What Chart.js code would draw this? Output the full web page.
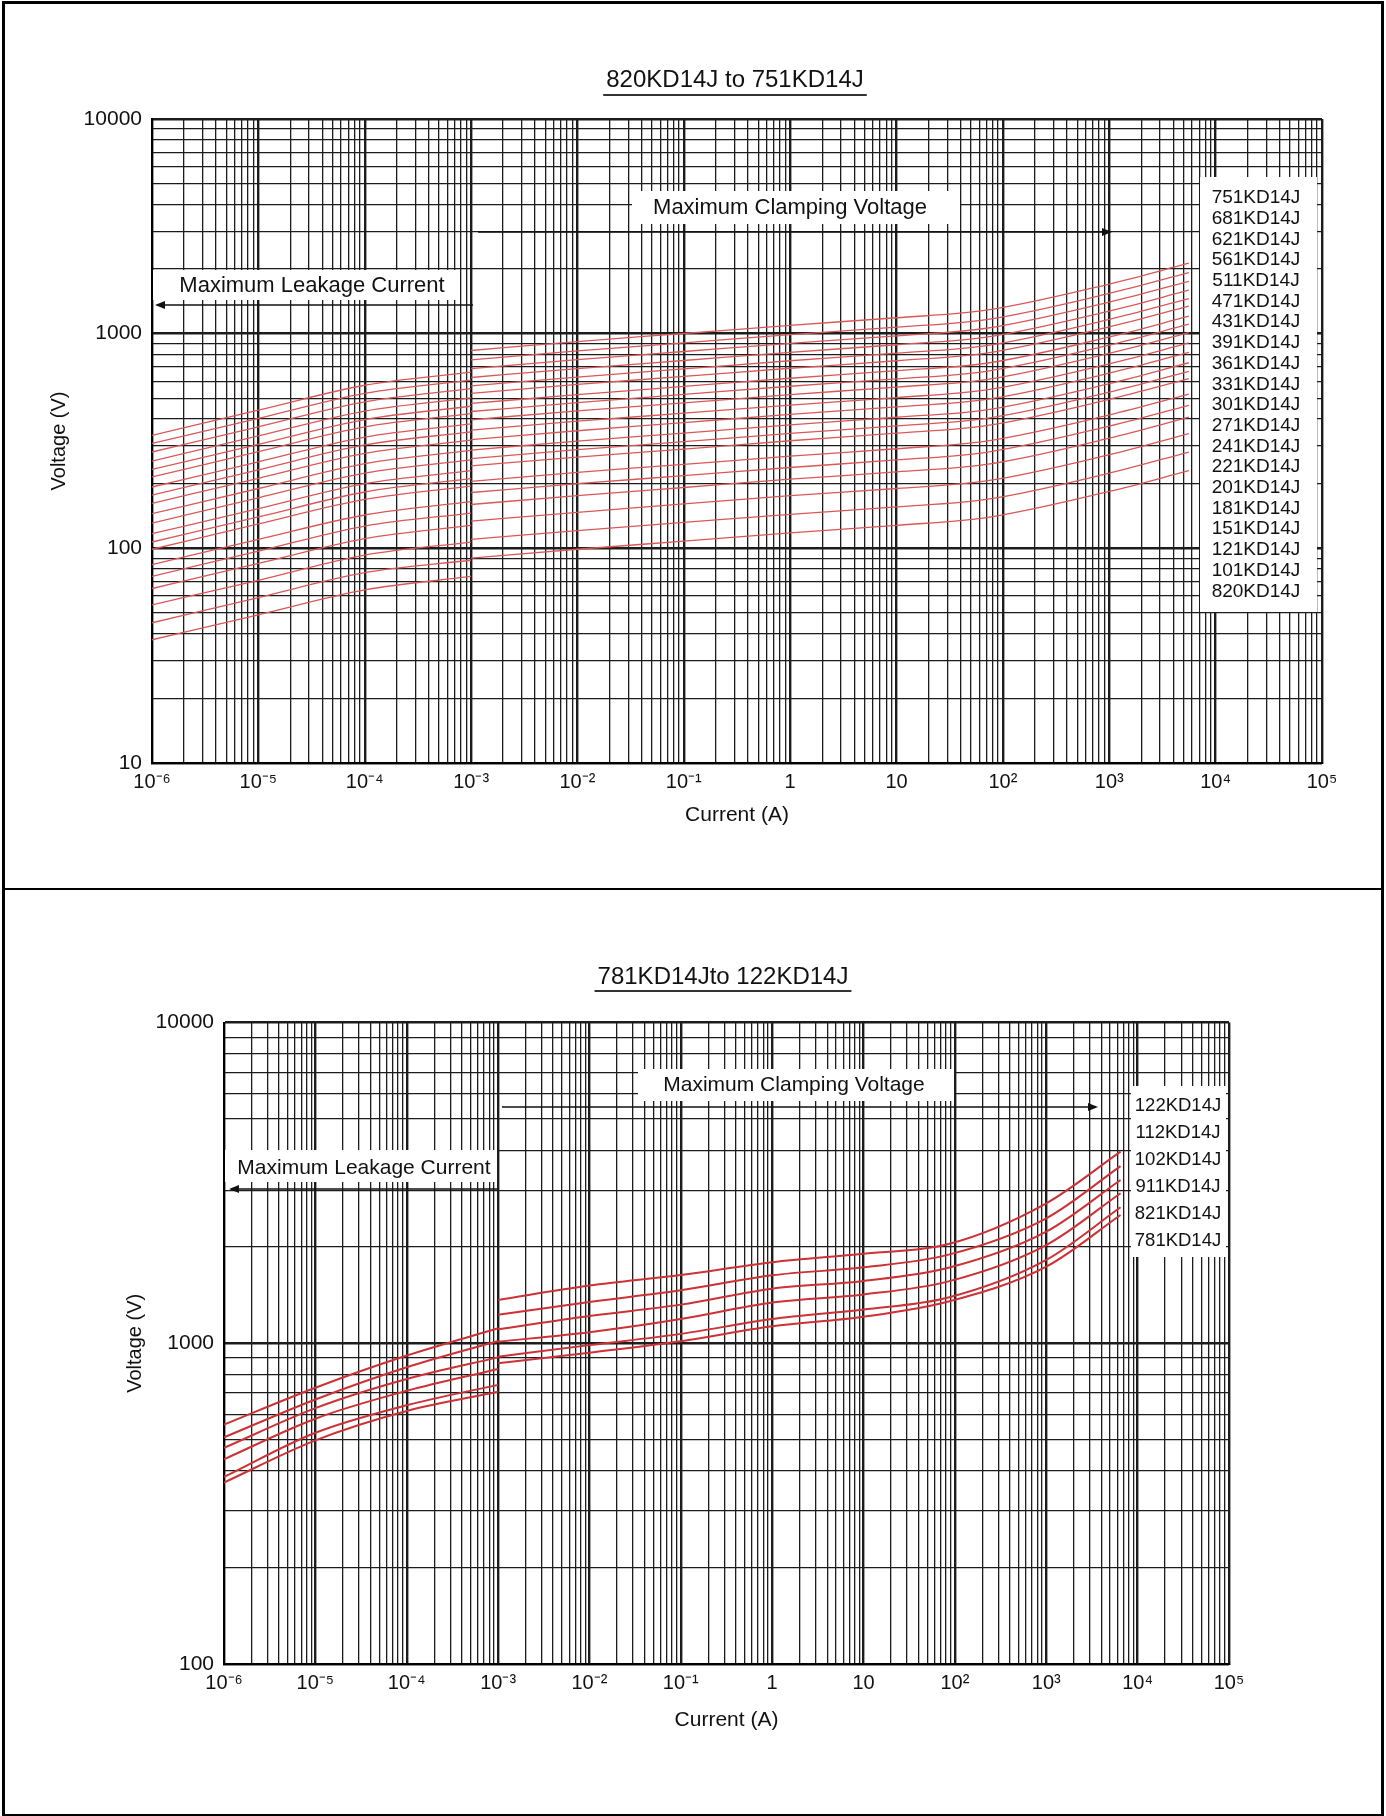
<!DOCTYPE html>
<html>
<head>
<meta charset="utf-8">
<script src="https://cdn.jsdelivr.net/npm/chart.js@4.4.1/dist/chart.umd.min.js"></script>
<style>
  html, body { margin: 0; padding: 0; background: #fff; }
  #page { position: relative; width: 1386px; height: 1816px; overflow: hidden; }
  canvas { position: absolute; left: 0; }
  #c1 { top: 0; }
  #c2 { top: 889px; }
  .frame { position: absolute; left: 2px; top: 1px; width: 1376px; height: 1810px; border: 3px solid #000; pointer-events: none; }
  .divider { position: absolute; left: 2px; top: 888px; width: 1382px; height: 2px; background: #000; }
</style>
</head>
<body>
<div id="page">
  <canvas id="c1" width="1386" height="889"></canvas>
  <canvas id="c2" width="1386" height="927"></canvas>
  <div class="frame"></div>
  <div class="divider"></div>
</div>
<script>
'use strict'
// ---------- top chart: 820KD14J to 751KD14J ----------
const modelsA = ['820KD14J', '101KD14J', '121KD14J', '151KD14J', '181KD14J', '201KD14J', '221KD14J',
    '241KD14J', '271KD14J', '301KD14J', '331KD14J', '361KD14J', '391KD14J', '431KD14J', '471KD14J',
    '511KD14J', '561KD14J', '621KD14J', '681KD14J', '751KD14J'];
const leakCurrentsA = [1e-6, 1e-5, 1e-4, 1e-3];
const clampCurrentsA = [1e-3, 1e-2, 1e-1, 1, 10, 70, 1000, 5600];
const leakA = [
    [37.5, 49, 64, 74], [45, 59, 77, 88], [54.5, 71, 93, 107], [65, 85, 111, 128],
    [74, 97, 127, 146], [84, 110, 143, 165], [99, 130, 169, 195], [107, 140, 183, 211],
    [117, 153, 200, 230], [131, 172, 224, 258], [145, 190, 248, 286], [162, 212, 277, 319],
    [177, 232, 303, 349], [193, 253, 330, 380], [215, 282, 368, 424], [233, 305, 398, 459],
    [255, 334, 436, 502], [281, 368, 481, 554], [308, 403, 527, 607], [336, 440, 575, 662]
];
const clampA = [
    [90, 99, 108, 118, 128, 139, 184, 230],
    [110, 121, 132, 144, 156, 169, 224, 281],
    [134, 147, 161, 176, 190, 206, 273, 342],
    [160, 176, 192, 210, 227, 246, 326, 408],
    [182, 200, 218, 238, 258, 280, 371, 464],
    [205, 226, 246, 269, 291, 316, 418, 523],
    [242, 266, 290, 317, 344, 373, 494, 617],
    [262, 288, 314, 343, 372, 403, 534, 668],
    [287, 316, 344, 376, 408, 442, 585, 732],
    [321, 353, 385, 421, 456, 494, 655, 819],
    [355, 391, 426, 465, 504, 547, 724, 905],
    [397, 437, 476, 520, 564, 611, 810, 1012],
    [434, 477, 521, 569, 616, 668, 885, 1107],
    [473, 520, 568, 620, 672, 728, 965, 1206],
    [527, 580, 632, 690, 748, 812, 1075, 1344],
    [571, 628, 685, 748, 811, 879, 1165, 1456],
    [625, 688, 750, 819, 888, 963, 1275, 1594],
    [688, 757, 826, 901, 977, 1060, 1404, 1754],
    [755, 831, 906, 989, 1072, 1163, 1540, 1925],
    [835, 919, 1002, 1094, 1186, 1286, 1703, 2129]
];

// ---------- bottom chart: 781KD14J to 122KD14J ----------
const modelsB = ['781KD14J', '821KD14J', '911KD14J', '102KD14J', '112KD14J', '122KD14J'];
const leakCurrentsB = [1e-6, 1e-5, 1e-4, 1e-3];
const clampCurrentsB = [1e-3, 1e-2, 1e-1, 1, 10, 85, 1000, 6500];
const leakB = [
    [368, 498, 615, 706], [383, 526, 641, 742], [435, 582, 711, 832],
    [472, 628, 774, 904], [509, 668, 842, 1017], [558, 727, 916, 1114]
];
const clampB = [
    [866, 935, 1015, 1130, 1210, 1350, 1734, 2513],
    [908, 987, 1070, 1190, 1275, 1390, 1820, 2655],
    [1012, 1083, 1190, 1340, 1420, 1560, 2025, 2937],
    [1106, 1217, 1320, 1480, 1565, 1720, 2229, 3230],
    [1228, 1346, 1464, 1630, 1725, 1890, 2454, 3570],
    [1365, 1514, 1633, 1790, 1903, 2040, 2733, 3960]
];

// tick labels
const xTickLabels = ['10⁻⁶', '10⁻⁵', '10⁻⁴', '10⁻³', '10⁻²', '10⁻¹', '1', '10', '10²', '10³', '10⁴', '10⁵'];
const yTickLabelsA = ['10', '100', '1000', '10000'];
const yTickLabelsB = ['100', '1000', '10000'];

const FONT = '"Liberation Sans", Arial, sans-serif';

function isDecade(v) {
    let l = Math.log10(v);
    return Math.abs(l - Math.round(l)) < 1e-6;
}
// all 1..9 x 10^n grid values of a log axis
function logGrid(minExp, maxExp) {
    let vals = [];
    for (let e = minExp; e < maxExp; e++) {
        for (let m = 1; m < 10; m++) vals.push(m * Math.pow(10, e));
    }
    vals.push(Math.pow(10, maxExp));
    return vals;
}

function curve(leakI, leakV, clampI, clampV) {
    let pts = leakI.map((x, i) => ({x: x, y: leakV[i]}));
    pts.push({x: clampI[0], y: null}); // break between leakage and clamping part
    clampI.forEach((x, i) => pts.push({x: x, y: clampV[i]}));
    return pts;
}

function makeDecor(cfg) {
    return {
        id: 'decor',
        beforeDatasetsDraw: function (chart) {
            let ctx = chart.ctx;
            ctx.save();
            ctx.fillStyle = '#111';
            ctx.textAlign = 'center';
            ctx.textBaseline = 'middle';
            // title with underline
            ctx.font = cfg.titleSize + 'px ' + FONT;
            ctx.fillText(cfg.title, cfg.titleX, cfg.titleY);
            let tw = ctx.measureText(cfg.title).width;
            ctx.fillStyle = '#333';
            ctx.fillRect(cfg.titleX - tw / 2 - 3, cfg.underlineY, tw + 6, 2);
            // annotation boxes + arrows
            cfg.notes.forEach(function (n) {
                ctx.fillStyle = '#fff';
                ctx.fillRect(n.box[0], n.box[1], n.box[2], n.box[3]);
                ctx.fillStyle = '#111';
                ctx.font = n.size + 'px ' + FONT;
                ctx.fillText(n.text, n.tx, n.ty);
                ctx.strokeStyle = '#111';
                ctx.lineWidth = 1.6;
                ctx.beginPath();
                ctx.moveTo(n.x1, n.ay);
                ctx.lineTo(n.x2, n.ay);
                ctx.stroke();
                let dir = n.x2 > n.x1 ? 1 : -1;
                ctx.beginPath();
                ctx.moveTo(n.x2 + dir * 2, n.ay);
                ctx.lineTo(n.x2 - dir * 8, n.ay - 4);
                ctx.lineTo(n.x2 - dir * 8, n.ay + 4);
                ctx.closePath();
                ctx.fill();
            });
            // legend box with model names
            let lb = cfg.legend;
            ctx.fillStyle = '#fff';
            ctx.fillRect(lb.box[0], lb.box[1], lb.box[2], lb.box[3]);
            ctx.fillStyle = '#111';
            ctx.font = lb.size + 'px ' + FONT;
            lb.names.forEach(function (name, i) {
                ctx.fillText(name, lb.cx, lb.y0 + i * lb.step);
            });
            ctx.restore();
        }
    };
}

function makeChart(id, o) {
    let datasets = o.models.map((m, i) => ({
        label: m,
        data: curve(o.leakI, o.leak[i], o.clampI, o.clamp[i]),
        borderColor: o.lineColor,
        borderWidth: o.lineWidth,
        pointRadius: 0,
        fill: false,
        spanGaps: false,
        cubicInterpolationMode: 'monotone'
    }));
    let gridStyle = {
        color: '#1c1c1c',
        lineWidth: ctx => (ctx.tick && isDecade(ctx.tick.value)) ? 2.4 : 1.3,
        drawTicks: false
    };
    return new Chart(document.getElementById(id), {
        type: 'line',
        data: {datasets: datasets},
        options: {
            responsive: false,
            animation: false,
            events: [],
            layout: {padding: o.padding},
            plugins: {legend: {display: false}, tooltip: {enabled: false}},
            scales: {
                x: {
                    type: 'logarithmic',
                    min: 1e-6,
                    max: 1e5,
                    afterBuildTicks: s => { s.ticks = logGrid(-6, 5).map(v => ({value: v})); },
                    afterFit: s => { s.height = 70; },
                    grid: gridStyle,
                    border: {display: true, color: '#000', width: 2},
                    ticks: {
                        autoSkip: false, maxRotation: 0, padding: 7, color: '#111',
                        font: {family: FONT, size: 20},
                        callback: v => isDecade(v) ? xTickLabels[Math.round(Math.log10(v)) + 6] : ''
                    },
                    title: {
                        display: true, text: 'Current (A)', color: '#111',
                        font: {family: FONT, size: 21}, padding: {top: 0, bottom: o.xTitlePad}
                    }
                },
                y: {
                    type: 'logarithmic',
                    min: o.yMin,
                    max: 10000,
                    afterBuildTicks: s => { s.ticks = logGrid(Math.round(Math.log10(o.yMin)), 4).map(v => ({value: v})); },
                    afterFit: s => { s.width = o.yWidth; },
                    grid: gridStyle,
                    border: {display: true, color: '#000', width: 2},
                    ticks: {
                        autoSkip: false, padding: 10, color: '#111',
                        font: {family: FONT, size: 21},
                        callback: v => isDecade(v) ? o.yLabels[Math.round(Math.log10(v / o.yMin))] : ''
                    },
                    title: {
                        display: true, text: 'Voltage (V)', color: '#111',
                        font: {family: FONT, size: 20}, padding: {top: o.yTitlePad, bottom: 0}
                    }
                }
            }
        },
        plugins: [makeDecor(o.decor)]
    });
}

makeChart('c1', {
    models: modelsA, leakI: leakCurrentsA, leak: leakA, clampI: clampCurrentsA, clamp: clampA,
    lineColor: 'rgb(218,88,88)', lineWidth: 1.3,
    padding: {left: 0, top: 119, right: 64, bottom: 56},
    yMin: 10, yLabels: yTickLabelsA, yWidth: 152, yTitlePad: 47, xTitlePad: 5,
    decor: {
        title: '820KD14J to 751KD14J', titleSize: 24, titleX: 735, titleY: 80, underlineY: 94,
        notes: [
            {text: 'Maximum Clamping Voltage', size: 22, box: [632, 191, 328, 33], tx: 790, ty: 208,
                x1: 478, x2: 1110, ay: 232},
            {text: 'Maximum Leakage Current', size: 22, box: [153, 270, 307, 30], tx: 312, ty: 286,
                x1: 473, x2: 157, ay: 305}
        ],
        legend: {box: [1200, 177, 117, 435], cx: 1256, y0: 198, step: 20.7, size: 19,
            names: modelsA.slice().reverse()}
    }
});

makeChart('c2', {
    models: modelsB, leakI: leakCurrentsB, leak: leakB, clampI: clampCurrentsB, clamp: clampB,
    lineColor: 'rgb(204,50,54)', lineWidth: 2,
    padding: {left: 0, top: 133.6, right: 157, bottom: 82},
    yMin: 100, yLabels: yTickLabelsB, yWidth: 224, yTitlePad: 123, xTitlePad: 1,
    decor: {
        title: '781KD14Jto 122KD14J', titleSize: 24, titleX: 723, titleY: 88, underlineY: 101,
        notes: [
            {text: 'Maximum Clamping Voltage', size: 21, box: [638, 180, 316, 32], tx: 794, ty: 196,
                x1: 502, x2: 1096, ay: 218},
            {text: 'Maximum Leakage Current', size: 21, box: [225, 261, 272, 32], tx: 364, ty: 279,
                x1: 497, x2: 231, ay: 300}
        ],
        legend: {box: [1131, 197, 95, 171], cx: 1178, y0: 217, step: 27, size: 18.5,
            names: modelsB.slice().reverse()}
    }
});
</script>
</body>
</html>
